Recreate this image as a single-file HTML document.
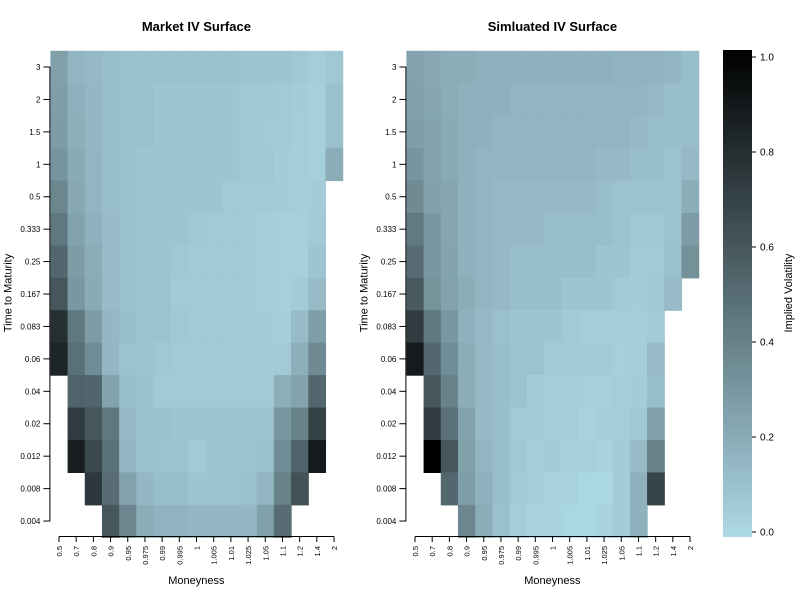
<!DOCTYPE html>
<html><head><meta charset="utf-8"><style>
body{margin:0;background:#fff;font-family:"Liberation Sans",sans-serif}
svg text{font-family:"Liberation Sans",sans-serif}
</style></head><body>
<svg id="c" width="800" height="600"></svg>
<script>
const moneyness=["0.5","0.7","0.8","0.9","0.95","0.975","0.99","0.995","1","1.005","1.01","1.025","1.05","1.1","1.2","1.4","2"];
const maturities=["3","2","1.5","1","0.5","0.333","0.25","0.167","0.083","0.06","0.04","0.02","0.012","0.008","0.004"];
const N=null;
const marketIV=[
[0.26,0.16,0.14,0.12,0.11,0.11,0.11,0.11,0.11,0.11,0.11,0.09,0.09,0.09,0.08,0.05,0.08],
[0.27,0.18,0.15,0.12,0.11,0.11,0.09,0.09,0.09,0.09,0.09,0.08,0.08,0.07,0.06,0.04,0.11],
[0.28,0.19,0.15,0.12,0.11,0.11,0.09,0.09,0.09,0.09,0.09,0.08,0.07,0.07,0.05,0.04,0.11],
[0.31,0.21,0.16,0.12,0.11,0.09,0.09,0.09,0.09,0.09,0.09,0.08,0.08,0.06,0.05,0.04,0.20],
[0.38,0.22,0.16,0.12,0.11,0.09,0.09,0.09,0.09,0.09,0.07,0.07,0.07,0.06,0.05,0.06,N],
[0.45,0.25,0.18,0.13,0.11,0.09,0.09,0.09,0.08,0.07,0.07,0.07,0.05,0.04,0.04,0.07,N],
[0.52,0.28,0.20,0.13,0.11,0.09,0.09,0.08,0.07,0.07,0.07,0.07,0.05,0.04,0.04,0.09,N],
[0.60,0.30,0.21,0.13,0.11,0.10,0.10,0.07,0.07,0.07,0.07,0.07,0.05,0.04,0.06,0.13,N],
[0.78,0.45,0.28,0.15,0.12,0.10,0.10,0.08,0.07,0.07,0.07,0.07,0.06,0.05,0.13,0.27,N],
[0.83,0.48,0.35,0.15,0.10,0.09,0.08,0.07,0.07,0.07,0.07,0.06,0.06,0.07,0.19,0.36,N],
[N,0.54,0.53,0.25,0.12,0.11,0.07,0.07,0.07,0.07,0.07,0.07,0.07,0.19,0.24,0.52,N],
[N,0.72,0.60,0.45,0.14,0.11,0.11,0.09,0.09,0.09,0.09,0.09,0.10,0.30,0.40,0.70,N],
[N,0.86,0.66,0.48,0.15,0.11,0.10,0.10,0.07,0.09,0.09,0.09,0.11,0.35,0.54,0.88,N],
[N,N,0.74,0.50,0.25,0.15,0.12,0.12,0.09,0.09,0.09,0.11,0.16,0.40,0.62,N,N],
[N,N,N,0.60,0.37,0.20,0.17,0.17,0.15,0.15,0.15,0.15,0.26,0.50,N,N,N]];
const simIV=[
[0.25,0.22,0.20,0.20,0.18,0.18,0.18,0.18,0.18,0.18,0.18,0.18,0.17,0.17,0.17,0.16,0.12],
[0.26,0.23,0.20,0.18,0.18,0.18,0.16,0.16,0.16,0.16,0.16,0.16,0.16,0.16,0.14,0.12,0.12],
[0.27,0.24,0.21,0.18,0.18,0.16,0.16,0.16,0.16,0.16,0.16,0.16,0.16,0.14,0.12,0.12,0.12],
[0.31,0.25,0.21,0.18,0.16,0.16,0.16,0.16,0.16,0.16,0.16,0.14,0.14,0.12,0.12,0.10,0.14],
[0.36,0.26,0.23,0.18,0.16,0.14,0.14,0.14,0.14,0.14,0.14,0.12,0.10,0.10,0.10,0.10,0.20],
[0.44,0.30,0.23,0.18,0.16,0.14,0.14,0.14,0.12,0.12,0.12,0.12,0.10,0.08,0.08,0.10,0.28],
[0.50,0.30,0.24,0.18,0.16,0.14,0.12,0.12,0.12,0.12,0.12,0.09,0.09,0.07,0.07,0.11,0.33],
[0.58,0.32,0.25,0.20,0.16,0.14,0.12,0.12,0.12,0.09,0.09,0.09,0.07,0.06,0.08,0.13,N],
[0.72,0.45,0.30,0.18,0.14,0.11,0.09,0.09,0.09,0.07,0.05,0.05,0.05,0.05,0.07,N,N],
[0.88,0.52,0.35,0.20,0.14,0.12,0.10,0.10,0.07,0.07,0.07,0.07,0.04,0.05,0.13,N,N],
[N,0.60,0.40,0.20,0.14,0.12,0.10,0.06,0.05,0.05,0.04,0.04,0.05,0.06,0.12,N,N],
[N,0.72,0.48,0.25,0.14,0.12,0.07,0.07,0.05,0.05,0.03,0.05,0.05,0.08,0.26,N,N],
[N,1.00,0.60,0.26,0.16,0.12,0.08,0.05,0.06,0.04,0.04,0.03,0.06,0.13,0.40,N,N],
[N,N,0.52,0.27,0.18,0.12,0.07,0.05,0.03,0.03,0.01,0.01,0.06,0.18,0.68,N,N],
[N,N,N,0.38,0.20,0.11,0.05,0.03,0.03,0.01,0.01,0.03,0.06,0.18,N,N,N]];
const cbTicks=[0,0.2,0.4,0.6,0.8,1.0];
const cbLabels=["0.0","0.2","0.4","0.6","0.8","1.0"];

const svg=document.getElementById('c');
const NS="http://www.w3.org/2000/svg";
function mk(t,a,p){const e=document.createElementNS(NS,t);for(const k in a)e.setAttribute(k,a[k]);(p||svg).appendChild(e);return e;}
function col(v){const f=1-Math.max(0,Math.min(1,v));return `rgb(${Math.round(173*f)},${Math.round(216*f)},${Math.round(230*f)})`;}
const gridTop=50.8,cellH=32.43;
function yPos(i){return gridTop+cellH*i;}
const cellW=17.19;

function panel(x0,title,data,key){
  const g=mk('g',{});
  
  
  const xPos=j=>x0+cellW*j;
  data.forEach((row,i)=>row.forEach((v,j)=>{
    if(v===null)return;
    const r=mk('rect',{x:xPos(j).toFixed(2),y:yPos(i).toFixed(2),width:(cellW+0.6).toFixed(2),height:(cellH+0.6).toFixed(2),fill:col(v)},g);
    
    
  }));
  const t=mk('text',{x:x0+146,y:31,'text-anchor':'middle','font-size':13,'font-weight':'bold'},g);t.textContent=title;
  
  const ya=mk('g',{},g);
  const yc=i=>yPos(i)+cellH/2;
  mk('line',{x1:x0-0.5,x2:x0-0.5,y1:yc(0),y2:yc(maturities.length-1),stroke:'#000'},ya);
  maturities.forEach((m,i)=>{mk('line',{x1:x0-7,x2:x0,y1:yc(i),y2:yc(i),stroke:'#000'},ya);
    const l=mk('text',{x:x0-10,y:yc(i)+3,'text-anchor':'end','font-size':8},ya);l.textContent=m;});
  const yt=mk('text',{x:0,y:0,'text-anchor':'middle','font-size':11,transform:`translate(${x0-39},293) rotate(-90)`},g);yt.textContent='Time to Maturity';
  
  const xa=mk('g',{},g);
  const xc=j=>xPos(j)+cellW/2;
  mk('line',{x1:xc(0),x2:xc(moneyness.length-1),y1:536.5,y2:536.5,stroke:'#000'},xa);
  moneyness.forEach((m,j)=>{mk('line',{x1:xc(j),x2:xc(j),y1:536.5,y2:542,stroke:'#000'},xa);
    const l=mk('text',{x:0,y:0,'text-anchor':'end','font-size':7.5,transform:`translate(${xc(j)+3},546) rotate(-90)`},xa);l.textContent=m;});
  const xt=mk('text',{x:x0+146,y:584,'text-anchor':'middle','font-size':11},g);xt.textContent='Moneyness';
  
}
panel(50.4,'Market IV Surface',marketIV,'market');
panel(406.4,'Simluated IV Surface',simIV,'simulated');

const cb=mk('g',{});
const defs=mk('defs',{});
const lg=mk('linearGradient',{id:'gr',x1:0,y1:1,x2:0,y2:0},defs);
mk('stop',{offset:0,'stop-color':col(0)},lg);mk('stop',{offset:1,'stop-color':col(1)},lg);
mk('rect',{x:723,y:50,width:29,height:487,fill:'url(#gr)'},cb);
const cbY=v=>532-475*v;
cbTicks.forEach((v,i)=>{mk('line',{x1:752,x2:756,y1:cbY(v),y2:cbY(v),stroke:'#000'},cb);
  const l=mk('text',{x:760,y:cbY(v)+3.5,'font-size':10},cb);l.textContent=cbLabels[i];});
const ct=mk('text',{x:0,y:0,'text-anchor':'middle','font-size':11,transform:'translate(792,293) rotate(-90)'},cb);ct.textContent='Implied Volatility';

</script>
</body></html>
